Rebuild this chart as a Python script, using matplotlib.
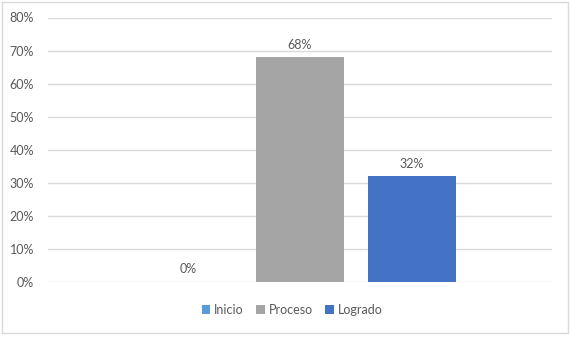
import matplotlib; matplotlib.use('Agg')
import matplotlib.pyplot as plt
from matplotlib.patches import Rectangle
from matplotlib.ticker import PercentFormatter

categories = ['Inicio', 'Proceso', 'Logrado']
values = [0.0, 0.68, 0.32]
colors = ['#5B9BD5', '#A5A5A5', '#4472C4']
yticks = [0, 0.1, 0.2, 0.3, 0.4, 0.5, 0.6, 0.7, 0.8]

plt.rcParams['font.family'] = ['Lato', 'DejaVu Sans']
text_color = '#595959'

fig = plt.figure(figsize=(5.7, 3.4), dpi=100)
ax = fig.add_axes([48 / 570, 1 - 282 / 340, 504 / 570, (282 - 17.5) / 340])

xs = [-1, 0, 1]
width = 88 / 112
for x, v, c, lab in zip(xs, values, colors, categories):
    ax.bar(x, v, width=width, color=c, label=lab, zorder=3)
    ax.text(x, v + 0.02, f'{v * 100:.0f}%', ha='center', va='bottom',
            fontsize=9, color=text_color)

ax.set_xlim(-2.25, 2.25)
ax.set_ylim(0, 0.8)
ax.set_yticks(yticks)
ax.yaxis.set_major_formatter(PercentFormatter(1.0, decimals=0))
ax.set_xticks([])
ax.tick_params(axis='y', length=0, pad=10, labelsize=9, labelcolor=text_color)
ax.grid(axis='y', color='#D9D9D9', lw=1, zorder=0)
for s in ax.spines.values():
    s.set_visible(False)

leg = fig.legend(loc='center', bbox_to_anchor=(292 / 570, 1 - 310 / 340), ncol=3,
                 frameon=False, fontsize=9, handlelength=0.7, handleheight=0.7,
                 handletextpad=0.3, columnspacing=1.0)
for t in leg.get_texts():
    t.set_color(text_color)

fig.patches.append(Rectangle((2 / 570, 1 - 333 / 340), 566 / 570, 331 / 340,
                             transform=fig.transFigure, fill=False,
                             edgecolor='#D9D9D9', lw=1))

fig.savefig('out.png', dpi=100)
